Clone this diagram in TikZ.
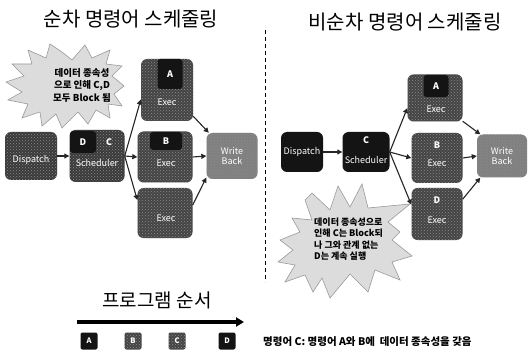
\documentclass[tikz,border=0pt]{standalone}
\usepackage{fontspec}
\setmainfont{Noto Sans CJK KR}
\usetikzlibrary{arrows.meta,patterns}
\definecolor{boxdark}{HTML}{3A3A3A}
\definecolor{boxexec}{HTML}{444444}
\definecolor{boxblack}{HTML}{141414}
\definecolor{boxwb}{HTML}{808080}
\definecolor{burstfill}{HTML}{DCDCDC}
\definecolor{burstline}{HTML}{9A9A9A}
\begin{document}
\begin{tikzpicture}[x=1pt,y=-1pt,
  blk/.style={rectangle, rounded corners=6pt, draw=none, text=white, align=center, inner sep=0pt,
              font=\fontsize{9}{10}\selectfont},
  texture/.style={postaction={pattern=crosshatch dots, pattern color=white!55!black}},
  tab/.style={rectangle, rounded corners=3pt, fill=boxblack, text=white, inner sep=0pt,
              font=\bfseries\fontsize{9}{10}\selectfont},
  lbl/.style={text=white, inner sep=0pt, font=\fontsize{9}{10}\selectfont},
  blbl/.style={text=white, inner sep=0pt, font=\bfseries\fontsize{9}{10}\selectfont},
  arr/.style={draw=black!85, line width=1.1pt, -{Triangle[length=5pt,width=5pt]}},
  burst/.style={fill=burstfill, draw=burstline, line width=0.6pt},
  bursttext/.style={align=left, inner sep=0pt},
  title/.style={inner sep=0pt, font=\fontsize{20}{22}\selectfont},
  small/.style={rectangle, rounded corners=2pt, minimum width=17pt, minimum height=17pt, inner sep=0pt,
                text=white, font=\bfseries\fontsize{7.5}{8}\selectfont}
]
\useasboundingbox (0,0) rectangle (529,355);
\fill[white] (0,0) rectangle (529,355);

% titles
\node[title] (t1) at (131,19) {순차 명령어 스케줄링};
\node[title] (t2) at (405,22) {비순차 명령어 스케줄링};

% divider
\coordinate (d1) at (265,30);
\coordinate (d2) at (265,282);
\draw[line width=0.8pt, dash pattern=on 4pt off 3pt] (d1) -- (d2);

% ---------- left burst ----------
\draw[burst] (62,52) -- (72,60) -- (85,45) -- (92,58) -- (110,50) -- (106,64) -- (122,66) -- (112,76)
  -- (124,86) -- (114,94) -- (122,106) -- (108,104) -- (110,118) -- (96,110) -- (88,124) -- (78,112)
  -- (62,128) -- (56,114) -- (42,126) -- (40,112) -- (22,118) -- (28,104) -- (8,100) -- (22,92)
  -- (6,82) -- (24,76) -- (12,64) -- (32,64) -- (28,50) -- (46,58) -- (50,44) -- cycle;
\node[bursttext, align=center, font=\bfseries\fontsize{9.5}{12.5}\selectfont] (bl) at (82,85)
  {데이터 종속성\\으로 인해 C,D\\모두 Block 됨};

% ---------- left pipeline ----------
\node[blk, fill=boxdark, texture, minimum width=52pt, minimum height=48pt] (dispL) at (31,156) {};
\node[lbl] at (31,160) {Dispatch};
\node[blk, fill=boxdark, texture, minimum width=55pt, minimum height=52pt] (schL) at (97,156) {};
\node[tab, minimum width=26pt, minimum height=22pt] (tabDL) at (83,142) {D};
\node[blbl] at (109,142) {C};
\node[lbl] at (97,163) {Scheduler};

\node[blk, fill=boxexec, texture, minimum width=52pt, minimum height=62pt] (exAL) at (167,90) {};
\node[tab, minimum width=25pt, minimum height=30pt] (tabAL) at (170,74) {A};
\node[lbl] at (167,102) {Exec};

\node[blk, fill=boxexec, texture, minimum width=55pt, minimum height=51pt] (exBL) at (165,157) {};
\node[tab, minimum width=32pt, minimum height=18pt] (tabBL) at (166,141) {B};
\node[lbl] at (166,163) {Exec};

\node[blk, fill=boxexec, texture, minimum width=55pt, minimum height=50pt] (exCL) at (165,213) {};
\node[lbl] at (166,218) {Exec};

\node[blk, fill=boxwb, texture, minimum width=51pt, minimum height=46pt] (wbL) at (232,156) {};
\node[lbl, align=center] at (232,156) {Write\\Back};

\draw[arr] (dispL.east) -- (schL.west);
\draw[arr] (schL.east) -- (exAL.200);
\draw[arr] (schL.east) -- (exBL.west);
\draw[arr] (schL.east) -- (exCL.155);
\draw[arr] (exAL.-45) -- (wbL.135);
\draw[arr] (exBL.east) -- (wbL.west);
\draw[arr] (exCL.16) -- (wbL.220);

% ---------- right burst ----------
\draw[burst] (312,193) -- (330,210) -- (338,186) -- (350,207) -- (362,184) -- (368,208) -- (410,204)
  -- (388,222) -- (400,232) -- (392,240) -- (412,256) -- (392,262) -- (400,280) -- (375,270)
  -- (368,292) -- (350,274) -- (330,298) -- (322,278) -- (313,292) -- (305,275) -- (285,282)
  -- (295,265) -- (278,262) -- (293,250) -- (280,240) -- (300,232) -- (292,218) -- (312,220)
  -- (305,200) -- cycle;
\node[bursttext, anchor=west, font=\bfseries\fontsize{9}{11.5}\selectfont] (br) at (314,239)
  {데이터 종속성으로\\인해 C는 Block되\\나 그와 관계 없는\\D는 계속 실행};

% ---------- right pipeline ----------
\node[blk, fill=boxblack, minimum width=42pt, minimum height=40pt] (dispR) at (302,152) {Dispatch};
\node[blk, fill=boxblack, minimum width=47pt, minimum height=40pt] (schR) at (366,152) {};
\node[blbl] at (366,140) {C};
\node[lbl] at (366,160) {Scheduler};

\node[blk, fill=boxexec, texture, minimum width=55pt, minimum height=47pt] (exAR) at (435,98) {};
\node[tab, minimum width=25pt, minimum height=22pt] (tabAR) at (436,86) {A};
\node[lbl] at (436,109) {Exec};

\node[blk, fill=boxexec, texture, minimum width=51pt, minimum height=50pt] (exBR) at (437,158) {};
\node[blbl] at (437,145) {B};
\node[lbl] at (437,163) {Exec};

\node[blk, fill=boxexec, texture, minimum width=51pt, minimum height=52pt] (exDR) at (437,214) {};
\node[blbl] at (437,200) {D};
\node[lbl] at (437,220) {Exec};

\node[blk, fill=boxwb, texture, minimum width=50pt, minimum height=43pt] (wbR) at (502,156) {};
\node[lbl, align=center] at (502,156) {Write\\Back};

\draw[arr] (dispR.east) -- (schR.west);
\draw[arr] (schR.east) -- (exAR.200);
\draw[arr] (schR.east) -- (exBR.west);
\draw[arr] (schR.east) -- (exDR.160);
\draw[arr] (exAR.-40) -- (wbR.135);
\draw[arr] (exBR.east) -- (wbR.west);
\draw[arr] (exDR.30) -- (wbR.225);

% ---------- bottom legend ----------
\node[inner sep=0pt, font=\fontsize{19}{21}\selectfont] (prog) at (157,300) {프로그램 순서};
\coordinate (pa) at (77,322);
\coordinate (pb) at (244,322);
\draw[line width=3.5pt, -{Triangle[length=8pt,width=9pt]}] (pa) -- (pb);

\node[small, fill=boxblack] (sA) at (89,341) {A};
\node[small, fill=boxexec, texture] (sB) at (133,341) {B};
\node[small, fill=boxexec, texture] (sC) at (177,341) {C};
\node[small, fill=boxblack] (sD) at (227,341) {D};

\node[anchor=west, inner sep=0pt, font=\bfseries\fontsize{10.5}{12}\selectfont] (note) at (263,342)
  {명령어 C: 명령어 A와 B에\ \ 데이터 종속성을 갖음};
\end{tikzpicture}
\end{document}
